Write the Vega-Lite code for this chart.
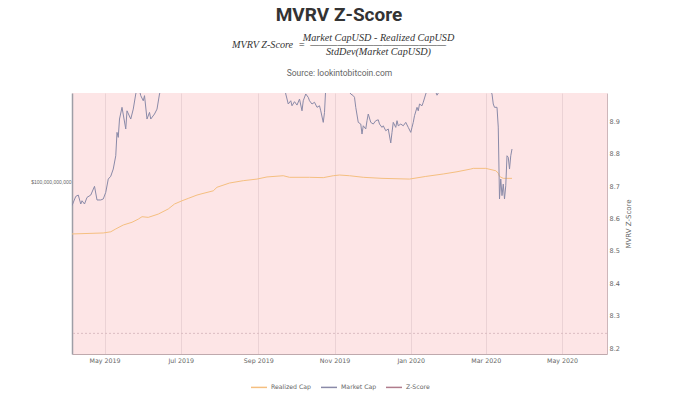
{
  "$schema": "https://vega.github.io/schema/vega-lite/v6.json",
  "padding": {"left": 30, "top": 6, "right": 10, "bottom": 0},
  "background": "white",
  "title": {
    "text": "MVRV Z-Score",
    "subtitle": [
      "\u200b\u2003\u2003\u2003\u2003\u2003\u2003\u2003\u2002\u2005Market CapUSD - Realized CapUSD",
      "MVRV Z-Score\u2002=\u2002\u2014\u2014\u2014\u2014\u2014\u2014\u2014\u2014\u2014\u2014\u2014\u2014\u2014\u2014\u2014",
      "\u200b\u2003\u2003\u2003\u2003\u2003\u2003\u2003\u2002\u2005StdDev(Market CapUSD)"
    ],
    "anchor": "middle",
    "dx": 8,
    "font": "Roboto",
    "fontSize": 19,
    "fontWeight": "bold",
    "color": "#333333",
    "subtitleFont": "Liberation Serif",
    "subtitleFontStyle": "italic",
    "subtitleFontSize": 10.2,
    "subtitleColor": "#333333",
    "subtitleLineHeight": 7,
    "subtitlePadding": 8,
    "offset": 11
  },
  "config": {
    "view": {"fill": "#fde5e6", "stroke": null},
    "axis": {
      "grid": false,
      "ticks": false,
      "tickSize": 0,
      "labelFont": "DejaVu Sans",
      "labelColor": "#666666",
      "titleFont": "DejaVu Sans",
      "titleColor": "#666666",
      "titleFontWeight": "normal"
    },
    "legend": {
      "labelFont": "DejaVu Sans",
      "labelFontSize": 6.2,
      "labelColor": "#666666",
      "layout": {"anchor": "middle", "bottom": {"anchor": "middle"}}
    }
  },
  "vconcat": [
    {
      "title": {
        "text": "Source: lookintobitcoin.com",
        "font": "Roboto",
        "fontSize": 8.5,
        "fontWeight": "normal",
        "color": "#666666",
        "anchor": "middle",
        "offset": 16
      },
      "width": 535,
      "height": 261,
      "layer": [
        {
          "data": {
            "values": [
              {"date": "2019-04-05", "series": "Realized Cap", "value": 74.5},
              {"date": "2019-04-30", "series": "Realized Cap", "value": 74.9},
              {"date": "2019-05-06", "series": "Realized Cap", "value": 75.4},
              {"date": "2019-05-10", "series": "Realized Cap", "value": 76.6},
              {"date": "2019-05-16", "series": "Realized Cap", "value": 78.3},
              {"date": "2019-05-23", "series": "Realized Cap", "value": 79.5},
              {"date": "2019-05-28", "series": "Realized Cap", "value": 80.9},
              {"date": "2019-05-31", "series": "Realized Cap", "value": 82.0},
              {"date": "2019-06-05", "series": "Realized Cap", "value": 81.7},
              {"date": "2019-06-13", "series": "Realized Cap", "value": 83.2},
              {"date": "2019-06-21", "series": "Realized Cap", "value": 85.6},
              {"date": "2019-06-26", "series": "Realized Cap", "value": 88.0},
              {"date": "2019-07-02", "series": "Realized Cap", "value": 89.6},
              {"date": "2019-07-07", "series": "Realized Cap", "value": 90.8},
              {"date": "2019-07-14", "series": "Realized Cap", "value": 92.5},
              {"date": "2019-07-18", "series": "Realized Cap", "value": 93.2},
              {"date": "2019-07-27", "series": "Realized Cap", "value": 94.7},
              {"date": "2019-07-30", "series": "Realized Cap", "value": 96.6},
              {"date": "2019-08-09", "series": "Realized Cap", "value": 98.9},
              {"date": "2019-08-20", "series": "Realized Cap", "value": 100.2},
              {"date": "2019-08-31", "series": "Realized Cap", "value": 101.1},
              {"date": "2019-09-08", "series": "Realized Cap", "value": 102.3},
              {"date": "2019-09-21", "series": "Realized Cap", "value": 103.0},
              {"date": "2019-09-26", "series": "Realized Cap", "value": 102.1},
              {"date": "2019-10-12", "series": "Realized Cap", "value": 102.1},
              {"date": "2019-10-23", "series": "Realized Cap", "value": 101.9},
              {"date": "2019-10-31", "series": "Realized Cap", "value": 103.0},
              {"date": "2019-11-05", "series": "Realized Cap", "value": 103.4},
              {"date": "2019-11-13", "series": "Realized Cap", "value": 103.0},
              {"date": "2019-11-24", "series": "Realized Cap", "value": 102.1},
              {"date": "2019-12-09", "series": "Realized Cap", "value": 101.5},
              {"date": "2019-12-31", "series": "Realized Cap", "value": 101.1},
              {"date": "2020-01-13", "series": "Realized Cap", "value": 102.6},
              {"date": "2020-01-27", "series": "Realized Cap", "value": 104.0},
              {"date": "2020-02-07", "series": "Realized Cap", "value": 105.3},
              {"date": "2020-02-18", "series": "Realized Cap", "value": 106.9},
              {"date": "2020-02-20", "series": "Realized Cap", "value": 107.3},
              {"date": "2020-03-01", "series": "Realized Cap", "value": 107.3},
              {"date": "2020-03-09", "series": "Realized Cap", "value": 105.9},
              {"date": "2020-03-11", "series": "Realized Cap", "value": 104.5},
              {"date": "2020-03-12", "series": "Realized Cap", "value": 102.6},
              {"date": "2020-03-15", "series": "Realized Cap", "value": 101.5},
              {"date": "2020-03-22", "series": "Realized Cap", "value": 101.5},

              {"date": "2019-04-05", "series": "Market Cap", "value": 87.2},
              {"date": "2019-04-08", "series": "Market Cap", "value": 91.8},
              {"date": "2019-04-10", "series": "Market Cap", "value": 92.5},
              {"date": "2019-04-12", "series": "Market Cap", "value": 88.0},
              {"date": "2019-04-13", "series": "Market Cap", "value": 89.6},
              {"date": "2019-04-15", "series": "Market Cap", "value": 88.0},
              {"date": "2019-04-17", "series": "Market Cap", "value": 91.3},
              {"date": "2019-04-20", "series": "Market Cap", "value": 92.5},
              {"date": "2019-04-23", "series": "Market Cap", "value": 97.1},
              {"date": "2019-04-25", "series": "Market Cap", "value": 90.0},
              {"date": "2019-04-28", "series": "Market Cap", "value": 90.0},
              {"date": "2019-04-30", "series": "Market Cap", "value": 90.5},
              {"date": "2019-05-02", "series": "Market Cap", "value": 93.9},
              {"date": "2019-05-04", "series": "Market Cap", "value": 101.1},
              {"date": "2019-05-06", "series": "Market Cap", "value": 102.7},
              {"date": "2019-05-08", "series": "Market Cap", "value": 106.9},
              {"date": "2019-05-10", "series": "Market Cap", "value": 115.1},
              {"date": "2019-05-11", "series": "Market Cap", "value": 131.1},
              {"date": "2019-05-12", "series": "Market Cap", "value": 127.5},
              {"date": "2019-05-13", "series": "Market Cap", "value": 141.2},
              {"date": "2019-05-15", "series": "Market Cap", "value": 150.7},
              {"date": "2019-05-18", "series": "Market Cap", "value": 133.6},
              {"date": "2019-05-19", "series": "Market Cap", "value": 147.8},
              {"date": "2019-05-22", "series": "Market Cap", "value": 141.2},
              {"date": "2019-05-24", "series": "Market Cap", "value": 149.2},
              {"date": "2019-05-26", "series": "Market Cap", "value": 162.3},
              {"date": "2019-05-28", "series": "Market Cap", "value": 170},
              {"date": "2019-05-30", "series": "Market Cap", "value": 160.8},
              {"date": "2019-06-01", "series": "Market Cap", "value": 156.3},
              {"date": "2019-06-02", "series": "Market Cap", "value": 160.8},
              {"date": "2019-06-04", "series": "Market Cap", "value": 141.2},
              {"date": "2019-06-06", "series": "Market Cap", "value": 146.5},
              {"date": "2019-06-07", "series": "Market Cap", "value": 141.2},
              {"date": "2019-06-10", "series": "Market Cap", "value": 145.2},
              {"date": "2019-06-12", "series": "Market Cap", "value": 149.2},
              {"date": "2019-06-14", "series": "Market Cap", "value": 162.3},
              {"date": "2019-06-17", "series": "Market Cap", "value": 172},
              {"date": "2019-06-22", "series": "Market Cap", "value": 195},
              {"date": "2019-06-26", "series": "Market Cap", "value": 235},
              {"date": "2019-07-01", "series": "Market Cap", "value": 200},
              {"date": "2019-07-09", "series": "Market Cap", "value": 220},
              {"date": "2019-07-17", "series": "Market Cap", "value": 172},
              {"date": "2019-07-22", "series": "Market Cap", "value": 180},
              {"date": "2019-07-30", "series": "Market Cap", "value": 170},
              {"date": "2019-08-06", "series": "Market Cap", "value": 210},
              {"date": "2019-08-14", "series": "Market Cap", "value": 182},
              {"date": "2019-08-20", "series": "Market Cap", "value": 190},
              {"date": "2019-08-28", "series": "Market Cap", "value": 170},
              {"date": "2019-09-06", "series": "Market Cap", "value": 185},
              {"date": "2019-09-18", "series": "Market Cap", "value": 178},
              {"date": "2019-09-22", "series": "Market Cap", "value": 172},
              {"date": "2019-09-23", "series": "Market Cap", "value": 162.3},
              {"date": "2019-09-25", "series": "Market Cap", "value": 153.5},
              {"date": "2019-09-27", "series": "Market Cap", "value": 156.3},
              {"date": "2019-09-28", "series": "Market Cap", "value": 152.0},
              {"date": "2019-09-30", "series": "Market Cap", "value": 155.5},
              {"date": "2019-10-02", "series": "Market Cap", "value": 152.6},
              {"date": "2019-10-04", "series": "Market Cap", "value": 157.8},
              {"date": "2019-10-06", "series": "Market Cap", "value": 147.8},
              {"date": "2019-10-07", "series": "Market Cap", "value": 156.3},
              {"date": "2019-10-09", "series": "Market Cap", "value": 162.3},
              {"date": "2019-10-11", "series": "Market Cap", "value": 159.3},
              {"date": "2019-10-12", "series": "Market Cap", "value": 156.3},
              {"date": "2019-10-14", "series": "Market Cap", "value": 153.5},
              {"date": "2019-10-16", "series": "Market Cap", "value": 155.0},
              {"date": "2019-10-18", "series": "Market Cap", "value": 150.7},
              {"date": "2019-10-20", "series": "Market Cap", "value": 152.0},
              {"date": "2019-10-21", "series": "Market Cap", "value": 147.8},
              {"date": "2019-10-23", "series": "Market Cap", "value": 138.6},
              {"date": "2019-10-24", "series": "Market Cap", "value": 146.5},
              {"date": "2019-10-25", "series": "Market Cap", "value": 168},
              {"date": "2019-10-26", "series": "Market Cap", "value": 182},
              {"date": "2019-10-30", "series": "Market Cap", "value": 175},
              {"date": "2019-11-04", "series": "Market Cap", "value": 172},
              {"date": "2019-11-08", "series": "Market Cap", "value": 168},
              {"date": "2019-11-12", "series": "Market Cap", "value": 166},
              {"date": "2019-11-14", "series": "Market Cap", "value": 162.3},
              {"date": "2019-11-16", "series": "Market Cap", "value": 160.8},
              {"date": "2019-11-17", "series": "Market Cap", "value": 159.3},
              {"date": "2019-11-18", "series": "Market Cap", "value": 150.7},
              {"date": "2019-11-20", "series": "Market Cap", "value": 138.6},
              {"date": "2019-11-22", "series": "Market Cap", "value": 137.3},
              {"date": "2019-11-23", "series": "Market Cap", "value": 129.9},
              {"date": "2019-11-24", "series": "Market Cap", "value": 136.0},
              {"date": "2019-11-26", "series": "Market Cap", "value": 133.6},
              {"date": "2019-11-27", "series": "Market Cap", "value": 139.9},
              {"date": "2019-11-28", "series": "Market Cap", "value": 145.2},
              {"date": "2019-11-30", "series": "Market Cap", "value": 138.6},
              {"date": "2019-12-02", "series": "Market Cap", "value": 137.3},
              {"date": "2019-12-04", "series": "Market Cap", "value": 139.9},
              {"date": "2019-12-06", "series": "Market Cap", "value": 140.6},
              {"date": "2019-12-07", "series": "Market Cap", "value": 137.3},
              {"date": "2019-12-09", "series": "Market Cap", "value": 134.8},
              {"date": "2019-12-10", "series": "Market Cap", "value": 136.0},
              {"date": "2019-12-12", "series": "Market Cap", "value": 132.3},
              {"date": "2019-12-14", "series": "Market Cap", "value": 133.6},
              {"date": "2019-12-16", "series": "Market Cap", "value": 123.6},
              {"date": "2019-12-17", "series": "Market Cap", "value": 131.1},
              {"date": "2019-12-18", "series": "Market Cap", "value": 138.6},
              {"date": "2019-12-20", "series": "Market Cap", "value": 134.8},
              {"date": "2019-12-21", "series": "Market Cap", "value": 139.9},
              {"date": "2019-12-22", "series": "Market Cap", "value": 136.0},
              {"date": "2019-12-24", "series": "Market Cap", "value": 137.3},
              {"date": "2019-12-26", "series": "Market Cap", "value": 136.0},
              {"date": "2019-12-28", "series": "Market Cap", "value": 138.6},
              {"date": "2019-12-30", "series": "Market Cap", "value": 134.8},
              {"date": "2020-01-01", "series": "Market Cap", "value": 131.1},
              {"date": "2020-01-02", "series": "Market Cap", "value": 134.8},
              {"date": "2020-01-03", "series": "Market Cap", "value": 138.6},
              {"date": "2020-01-04", "series": "Market Cap", "value": 143.8},
              {"date": "2020-01-06", "series": "Market Cap", "value": 150.7},
              {"date": "2020-01-07", "series": "Market Cap", "value": 147.8},
              {"date": "2020-01-08", "series": "Market Cap", "value": 153.5},
              {"date": "2020-01-10", "series": "Market Cap", "value": 152.0},
              {"date": "2020-01-11", "series": "Market Cap", "value": 155.0},
              {"date": "2020-01-13", "series": "Market Cap", "value": 162.3},
              {"date": "2020-01-15", "series": "Market Cap", "value": 168},
              {"date": "2020-01-19", "series": "Market Cap", "value": 166},
              {"date": "2020-01-21", "series": "Market Cap", "value": 164},
              {"date": "2020-01-22", "series": "Market Cap", "value": 161.2},
              {"date": "2020-01-24", "series": "Market Cap", "value": 165},
              {"date": "2020-02-01", "series": "Market Cap", "value": 172},
              {"date": "2020-02-08", "series": "Market Cap", "value": 182},
              {"date": "2020-02-14", "series": "Market Cap", "value": 190},
              {"date": "2020-02-20", "series": "Market Cap", "value": 178},
              {"date": "2020-02-26", "series": "Market Cap", "value": 170},
              {"date": "2020-03-03", "series": "Market Cap", "value": 168},
              {"date": "2020-03-05", "series": "Market Cap", "value": 165},
              {"date": "2020-03-06", "series": "Market Cap", "value": 162.3},
              {"date": "2020-03-07", "series": "Market Cap", "value": 153.5},
              {"date": "2020-03-08", "series": "Market Cap", "value": 150.7},
              {"date": "2020-03-10", "series": "Market Cap", "value": 150.7},
              {"date": "2020-03-11", "series": "Market Cap", "value": 135},
              {"date": "2020-03-12", "series": "Market Cap", "value": 90.5},
              {"date": "2020-03-13", "series": "Market Cap", "value": 101.1},
              {"date": "2020-03-14", "series": "Market Cap", "value": 92.2},
              {"date": "2020-03-15", "series": "Market Cap", "value": 98.3},
              {"date": "2020-03-16", "series": "Market Cap", "value": 90.5},
              {"date": "2020-03-17", "series": "Market Cap", "value": 97.4},
              {"date": "2020-03-18", "series": "Market Cap", "value": 115.1},
              {"date": "2020-03-19", "series": "Market Cap", "value": 114.1},
              {"date": "2020-03-20", "series": "Market Cap", "value": 106.9},
              {"date": "2020-03-21", "series": "Market Cap", "value": 115.1},
              {"date": "2020-03-22", "series": "Market Cap", "value": 119.5}
            ]
          },
          "mark": {"type": "line", "strokeWidth": 1, "clip": true},
          "encoding": {
            "x": {
              "field": "date",
              "type": "temporal",
              "scale": {"domain": [{"year": 2019, "month": 4, "date": 5}, {"year": 2020, "month": 6, "date": 6}], "nice": false},
              "axis": {
                "title": null,
                "format": "%b %Y",
                "tickCount": {"interval": "month", "step": 2},
                "grid": true,
                "gridColor": "#ebd2d5",
                "gridWidth": 1,
                "domain": true,
                "domainColor": "#bfa9ad",
                "domainWidth": 1,
                "labelFontSize": 6.3,
                "labelPadding": 3
              }
            },
            "y": {
              "field": "value",
              "type": "quantitative",
              "scale": {"type": "log", "domain": [38.2, 163.2], "nice": false},
              "axis": {
                "orient": "left",
                "title": null,
                "values": [100],
                "labelExpr": "'$' + format(datum.value * 1000000000, ',.0f')",
                "labelFont": "Liberation Sans",
                "labelFontSize": 5,
                "labelPadding": 1,
                "domain": true,
                "domainColor": "#9e9ea6",
                "domainWidth": 1.5
              }
            },
            "color": {
              "field": "series",
              "type": "nominal",
              "scale": {
                "domain": ["Realized Cap", "Market Cap", "Z-Score"],
                "range": ["#f5bf80", "#8a8aa8", "#b07c8c"]
              },
              "legend": {
                "title": null,
                "orient": "bottom",
                "direction": "horizontal",
                "symbolType": "stroke",
                "symbolSize": 256,
                "symbolStrokeWidth": 1.5,
                "columnPadding": 6,
                "labelOffset": 3,
                "offset": 14
              }
            }
          }
        },
        {
          "data": {"values": [{"level": 8.246}]},
          "mark": {"type": "rule", "strokeDash": [2, 2], "color": "#dcbcc2", "strokeWidth": 1},
          "encoding": {
            "y": {
              "field": "level",
              "type": "quantitative",
              "scale": {"domain": [8.1824, 8.987], "nice": false, "zero": false},
              "axis": {
                "orient": "right",
                "title": "MVRV Z-Score",
                "titleAngle": 270,
                "titleFontSize": 7,
                "titlePadding": 12,
                "values": [8.2, 8.3, 8.4, 8.5, 8.6, 8.7, 8.8, 8.9],
                "format": ".1f",
                "labelFontSize": 6.5,
                "labelPadding": 2,
                "domain": true,
                "domainColor": "#cdb6ba",
                "domainWidth": 1
              }
            }
          }
        }
      ],
      "resolve": {"scale": {"y": "independent"}, "axis": {"y": "independent"}}
    }
  ]
}
